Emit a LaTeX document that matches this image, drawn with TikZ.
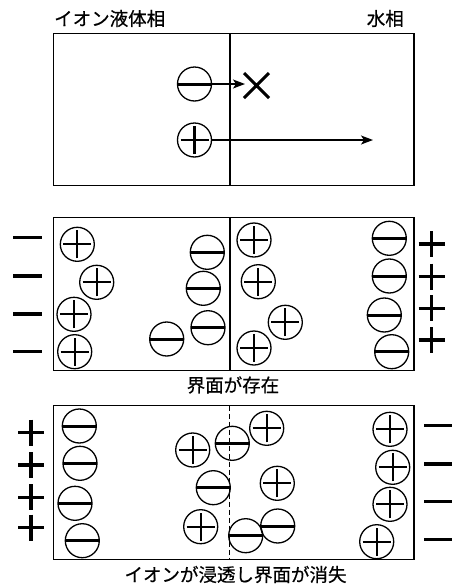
\documentclass[tikz,border=0pt]{standalone}
\usepackage{fontspec}
\newfontfamily\jp[FakeBold=0.5]{Noto Sans CJK JP}
\usetikzlibrary{arrows.meta,shapes.misc}
\tikzset{
  ion/.style={circle, draw, line width=1.3pt, minimum size=34pt, inner sep=0pt},
  anion/.style={ion, path picture={\draw[line width=3pt] (path picture bounding box.west) -- (path picture bounding box.east);}},
  cation/.style={ion, path picture={\draw[line width=2.2pt] ([xshift=-14pt]path picture bounding box.center) -- ([xshift=14pt]path picture bounding box.center) ([yshift=-14pt]path picture bounding box.center) -- ([yshift=14pt]path picture bounding box.center);}},
  panel/.style={draw, line width=1.5pt},
  sign/.style={line width=3.2pt},
  lbl/.style={font=\jp\fontsize{18.5}{20}\selectfont, inner sep=0pt},
  arr/.style={line width=1.3pt, -{Stealth[length=12pt,width=9pt,inset=3pt]}}
}
\begin{document}
\begin{tikzpicture}[x=1pt,y=-1pt]
\useasboundingbox (0,0) rectangle (452,584);
% ---------- top panel ----------
\node[lbl, anchor=west] (lliq) at (54,18.5) {イオン液体相};
\node[lbl, anchor=east] (lwat) at (404,18.5) {水相};
\draw[panel] (53.7,33.3) rectangle (414,185.7);
\draw[line width=1.5pt] (230,33.3) -- (230,185.7);
\node[anion] (tm) at (194.5,84) {};
\node[cation] (tp) at (194.5,140) {};
\node[cross out, draw, line width=3pt, minimum size=22pt, inner sep=0pt] (tx) at (256.5,85.5) {};
\coordinate (tend) at (373,140);
\draw[arr] (tm.east) -- ([xshift=1pt]tx.west |- tm.east);
\draw[arr] (tp.east) -- (tend);
% ---------- middle panel ----------
\draw[panel] (53.7,217.3) rectangle (414,370.7);
\draw[line width=1.5pt] (230,217.3) -- (230,370.7);
\foreach \n/\x/\y in {a/77.3/244.3, b/96.7/282.3, c/74/314.3, d/74.7/351.7,
                       e/254/240, f/258.3/281.7, g/285.3/322.3, h/254/348}
  \node[cation] (mp\n) at (\x,\y) {};
\foreach \n/\x/\y in {a/207.3/252.3, b/203.3/288.3, c/208/327.7, d/166.7/339,
                       e/389.3/238.3, f/389.3/276, g/384.3/315, h/391.7/351.7}
  \node[anion] (mm\n) at (\x,\y) {};
\foreach \y in {237.7,276,314,351.7}
  \draw[sign] (13,\y) -- (42,\y);
\foreach \y in {244,276.7,308.3,340}
  \draw[sign] (418.7,\y) -- (444.7,\y) (431.7,\y-13) -- (431.7,\y+13);
\node[lbl] (lexist) at (233,385) {界面が存在};
% ---------- bottom panel ----------
\draw[panel] (53.7,405.7) rectangle (414,559.3);
\draw[line width=1.5pt, dash pattern=on 5pt off 3pt] (229.3,405.7) -- (229.3,559.3);
\foreach \n/\x/\y in {a/79.3/426, b/80/463.3, c/75/503.3, d/82.3/540.7,
                       e/232.3/443.3, f/213.3/487.7, g/245.7/535.7, h/277.7/526}
  \node[anion] (bm\n) at (\x,\y) {};
\foreach \n/\x/\y in {a/192.7/450, b/266.7/428.3, c/277.3/483.3, d/200.7/526.7,
                       e/390/429.3, f/392.7/467.3, g/390/504.3, h/376.7/541.7}
  \node[cation] (bp\n) at (\x,\y) {};
\foreach \y in {432.7,465,497.3,527.7}
  \draw[sign] (18,\y) -- (44,\y) (31,\y-13) -- (31,\y+13);
\foreach \y in {425.7,464,501.7,539.3}
  \draw[sign] (424,\y) -- (453,\y);
\node[lbl] (lvanish) at (235.5,574.5) {イオンが浸透し界面が消失};
\end{tikzpicture}
\end{document}
